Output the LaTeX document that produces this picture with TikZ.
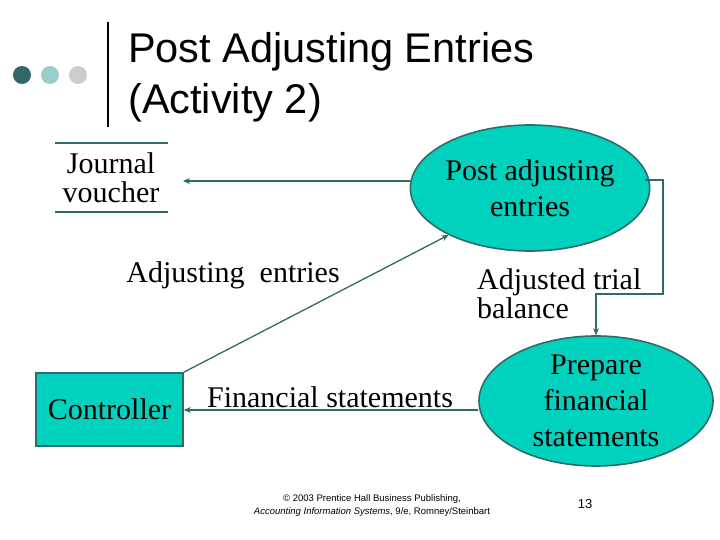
\documentclass[tikz,border=0pt]{standalone}
\usepackage{fontspec}
\setmainfont{Liberation Serif}
\newfontfamily\arialf{Liberation Sans}
\usetikzlibrary{shapes.geometric,arrows.meta}
\definecolor{tealfill}{RGB}{0,210,190}
\definecolor{tealline}{RGB}{47,107,107}
\definecolor{dotdark}{RGB}{51,102,102}
\definecolor{dotlight}{RGB}{153,204,204}
\definecolor{dotgray}{RGB}{204,204,204}
\tikzset{
  proc/.style={ellipse,draw=tealline,line width=1.6pt,fill=tealfill,minimum width=230pt,minimum height=126pt,inner sep=0pt,align=center,font=\fontsize{30}{36}\selectfont},
  flow/.style={draw=tealline,line width=1.3pt,-{Stealth[length=7pt,width=6pt]}},
  lbl/.style={font=\fontsize{30}{29}\selectfont,align=left,inner sep=0pt},
}
\begin{document}
\begin{tikzpicture}[x=1pt,y=-1pt]
\useasboundingbox (0,0) rectangle (720,540);
\fill[white] (0,0) rectangle (720,540);
% header decoration
\fill[dotdark] (22,75) circle (9);
\fill[dotlight] (50,75) circle (9);
\fill[dotgray] (78,75) circle (9);
\draw[line width=2.5pt] (108,22) -- (108,127);
\node[anchor=west,font=\arialf\fontsize{41.5}{51}\selectfont,align=left,inner sep=0pt] (title) at (128,77) {Post Adjusting Entries\\(Activity 2)};
% journal voucher store
\draw[tealline,line width=1.4pt] (55,143) -- (168,143);
\draw[tealline,line width=1.4pt] (55,212) -- (168,212);
\node[lbl,align=center] (jv) at (111,178) {Journal\\voucher};
\coordinate (jvr) at (183,181);
% processes
\node[proc] (post) at (530,188) {Post adjusting\\entries};
\node[proc,minimum width=234pt,minimum height=130pt] (prep) at (596,401) {Prepare\\financial\\statements};
\node[draw=tealline,line width=1.6pt,fill=tealfill,minimum width=147pt,minimum height=73pt,inner sep=0pt,font=\fontsize{30}{30}\selectfont] (ctrl) at (109.5,409.5) {Controller};
% flows
\draw[flow] (post.west |- jvr) -- (jvr);
\draw[flow] (prep.west |- 0,410) -- (ctrl.east |- 0,410);
\draw[flow] (ctrl.north east) -- (post.210);
\coordinate (pe) at (645,180);
\draw[flow] (pe) -- (663,180) -- (663,294) -- (596,294) -- (prep.north);
% labels
\node[lbl] (l1) at (233,275) {Adjusting~ entries};
\node[lbl,anchor=west] (l2) at (477,294) {Adjusted trial\\balance};
\node[lbl] (l3) at (330,397) {Financial statements};
% footer
\node[font=\arialf\fontsize{9.5}{13}\selectfont,align=center] (foot) at (372,506) {© 2003 Prentice Hall Business Publishing,\\\textit{Accounting Information Systems}, 9/e, Romney/Steinbart};
\node[font=\arialf\fontsize{13}{15}\selectfont] (pg) at (585,504) {13};
\end{tikzpicture}
\end{document}
